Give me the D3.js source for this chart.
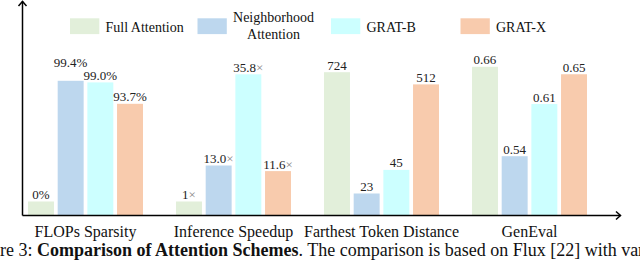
<!DOCTYPE html>
<html>
<head>
<meta charset="utf-8">
<script src="https://cdn.jsdelivr.net/npm/d3@7"></script>
<style>
  html, body { margin: 0; padding: 0; background: #fff; }
  svg { display: block; }
</style>
</head>
<body>
<svg id="chart" width="640" height="261" font-family="'Liberation Serif', 'Times New Roman', 'DejaVu Serif', serif"></svg>
<script>
// ---- data ----
const categories = ["FLOPs Sparsity", "Inference Speedup", "Farthest Token Distance", "GenEval"];
const seriesNames = ["Full Attention", "Neighborhood Attention", "GRAT-B", "GRAT-X"];
const flopsSparsity = [0, 99.4, 99.0, 93.7];          // %
const inferenceSpeedup = [1, 13.0, 35.8, 11.6];       // ×
const farthestTokenDistance = [724, 23, 45, 512];
const genEval = [0.66, 0.54, 0.61, 0.65];
const caption = {
  prefix: "Figure 3: ",
  bold: "Comparison of Attention Schemes",
  rest: ". The comparison is based on Flux [22] with various"
};

// ---- styling ----
const FONT = "'Liberation Serif', 'Times New Roman', 'DejaVu Serif', serif";
const colors = ["#e2efda", "#bdd7ee", "#ccffff", "#f8cbad"];
const axisX = 22.5, baseY = 215.5;
const minBar = 14;

const svg = d3.select("#chart");

// group and bar bands
const xGroup = d3.scaleBand().domain(categories).range([28, 587]).paddingInner(0.223).paddingOuter(0);
const xBar = d3.scaleBand().domain(seriesNames).range([0, xGroup.bandwidth()]).paddingInner(0.125);

// per-metric height scales (each metric drawn on its own independent axis)
const metrics = [
  { name: categories[0], values: flopsSparsity,
    h: d3.scaleLinear().domain([93.7, 99.4]).range([111.7, 134.7]),
    parts: v => [v === 0 ? "0%" : d3.format(".1f")(v) + "%", ""] },
  { name: categories[1], values: inferenceSpeedup,
    h: d3.scaleLinear().domain([0.5, 35.8]).range([0, 141.2]),
    parts: v => [v === 1 ? "1" : d3.format(".1f")(v), "×"] },
  { name: categories[2], values: farthestTokenDistance,
    h: d3.scaleLog().domain([12.3, 724]).range([0, 143.3]),
    parts: v => [d3.format("d")(v), ""] },
  { name: categories[3], values: genEval,
    h: d3.scaleLinear().domain([0.4604, 0.66]).range([0, 148.7]),
    parts: v => [d3.format(".2f")(v), ""] }
];

const barData = [];
metrics.forEach(m => {
  const group = [];
  m.values.forEach((v, i) => {
    const hh = Math.max(m.h(v), minBar);
    const d = { cat: m.name, series: seriesNames[i], i, v, hh, parts: m.parts(v) };
    d.ly = baseY - hh - 2.5;
    group.push(d);
    barData.push(d);
  });
  // lift a label that would collide with its right-hand neighbour's label
  for (let i = 0; i < group.length - 1; i++) {
    const a = group[i], b = group[i + 1];
    const wide = (a.parts[0].length + b.parts[0].length) > 8;
    if (wide && Math.abs(a.ly - b.ly) < 11) {
      if (a.ly <= b.ly) a.ly = b.ly - 12.5; else b.ly = a.ly - 12.5;
    }
  }
});

// bars
svg.append("g").selectAll("rect").data(barData).join("rect")
  .attr("x", d => xGroup(d.cat) + xBar(d.series))
  .attr("y", d => baseY - d.hh)
  .attr("width", xBar.bandwidth())
  .attr("height", d => d.hh)
  .attr("fill", d => colors[d.i]);

// value labels
const lbl = svg.append("g").selectAll("text").data(barData).join("text")
  .attr("font-family", FONT)
  .attr("x", d => xGroup(d.cat) + xBar(d.series) + xBar.bandwidth() / 2)
  .attr("y", d => d.ly)
  .attr("text-anchor", "middle")
  .attr("font-size", 13)
  .attr("fill", "#222");
lbl.append("tspan").text(d => d.parts[0]);
lbl.append("tspan").attr("fill", "#888").text(d => d.parts[1]);

// axes
const axes = svg.append("g").attr("stroke", "#000").attr("fill", "none").attr("stroke-width", 1.5);
axes.append("line").attr("x1", axisX).attr("y1", baseY).attr("x2", axisX).attr("y2", 1.5);
axes.append("polyline").attr("points", `${axisX - 4},6 ${axisX},1.5 ${axisX + 4},6`);
axes.append("line").attr("x1", axisX).attr("y1", baseY).attr("x2", 620.5).attr("y2", baseY);
axes.append("polyline").attr("points", `616,${baseY - 4} 620.5,${baseY} 616,${baseY + 4}`);

// category labels
svg.append("g").selectAll("text").data(categories).join("text")
  .attr("font-family", FONT)
  .attr("x", d => xGroup(d) + xGroup.bandwidth() / 2)
  .attr("y", 236.5)
  .attr("text-anchor", "middle")
  .attr("font-size", 16)
  .attr("fill", "#111")
  .text(d => d);

// legend
const legendX = [70, 197.5, 331, 460.5];
const leg = svg.append("g").selectAll("g").data(seriesNames).join("g");
leg.append("rect")
  .attr("x", (d, i) => legendX[i]).attr("y", 18.3)
  .attr("width", 29.3).attr("height", 15.8)
  .attr("fill", (d, i) => colors[i]);
leg.each(function(d, i) {
  const g = d3.select(this);
  if (d === "Neighborhood Attention") {
    const t = g.append("text").attr("font-family", FONT).attr("font-size", 14)
      .attr("text-anchor", "middle").attr("fill", "#111");
    t.append("tspan").attr("x", 273.5).attr("y", 21.8).text("Neighborhood");
    t.append("tspan").attr("x", 273.5).attr("y", 38.6).text("Attention");
  } else {
    g.append("text").attr("font-family", FONT).attr("font-size", 14).attr("fill", "#111")
      .attr("x", legendX[i] + 35.5).attr("y", 31.5).text(d);
  }
});

// caption (cut by the frame, as in the source)
const cap = svg.append("text").attr("font-family", FONT)
  .attr("x", -33).attr("y", 256).attr("font-size", 18).attr("fill", "#111");
cap.append("tspan").text(caption.prefix);
cap.append("tspan").attr("font-weight", "bold").text(caption.bold);
cap.append("tspan").text(caption.rest);
</script>
</body>
</html>
